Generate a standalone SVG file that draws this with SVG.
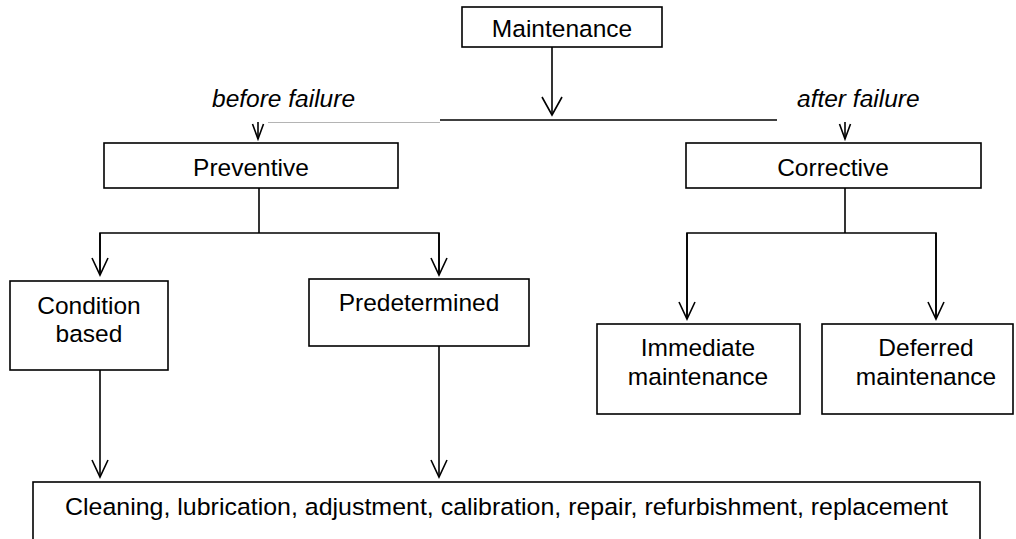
<svg xmlns="http://www.w3.org/2000/svg" width="1016" height="539" viewBox="0 0 1016 539">
<style>
  .box { fill: #fff; stroke: #000; stroke-width: 1.6; }
  .t { font-family: "Liberation Sans", Arial, sans-serif; font-size: 24.5px; fill: #000; text-anchor: middle; }
  .it { font-style: italic; text-anchor: start; }
  .ln { fill: none; stroke: #000; stroke-width: 1.6; }
  .thin { fill: none; stroke: #b4b4b4; stroke-width: 1; }
</style>
<defs>
  <marker id="vL" viewBox="-22 -12 24 24" refX="0" refY="0" markerWidth="24" markerHeight="24" orient="auto" markerUnits="userSpaceOnUse">
    <path d="M-18,-10 L0,0 L-18,10" fill="none" stroke="#000" stroke-width="1.6"/>
  </marker>
  <marker id="vM" viewBox="-22 -12 24 24" refX="0" refY="0" markerWidth="24" markerHeight="24" orient="auto" markerUnits="userSpaceOnUse">
    <path d="M-17,-8 L0,0 L-17,8" fill="none" stroke="#000" stroke-width="1.6"/>
  </marker>
  <marker id="vS" viewBox="-22 -12 24 24" refX="0" refY="0" markerWidth="24" markerHeight="24" orient="auto" markerUnits="userSpaceOnUse">
    <path d="M-15,-5.5 L0,0 L-15,5.5" fill="none" stroke="#000" stroke-width="1.6"/>
  </marker>
</defs>

<g id="connectors">
  <line class="ln" x1="552" y1="47" x2="552" y2="115" marker-end="url(#vL)"/>
  <line class="ln" x1="440" y1="120" x2="777" y2="120"/>
  <line class="thin" x1="268" y1="122.5" x2="440" y2="122.5"/>
  <line class="ln" x1="258" y1="122" x2="258" y2="139" marker-end="url(#vS)"/>
  <line class="ln" x1="845" y1="122" x2="845" y2="139" marker-end="url(#vS)"/>
  <polyline class="ln" points="259,188 259,233"/>
  <polyline class="ln" points="100,275 100,233 439,233 439,275"/>
  <line class="ln" x1="100" y1="233" x2="100" y2="275" marker-end="url(#vM)"/>
  <line class="ln" x1="439" y1="233" x2="439" y2="275" marker-end="url(#vM)"/>
  <polyline class="ln" points="845,188 845,233"/>
  <polyline class="ln" points="687,319 687,233 936,233 936,319"/>
  <line class="ln" x1="687" y1="233" x2="687" y2="319" marker-end="url(#vM)"/>
  <line class="ln" x1="936" y1="233" x2="936" y2="319" marker-end="url(#vM)"/>
  <line class="ln" x1="100" y1="370" x2="100" y2="477" marker-end="url(#vM)"/>
  <line class="ln" x1="439" y1="346" x2="439" y2="477" marker-end="url(#vM)"/>
  <text class="t it" x="212" y="107">before failure</text>
  <text class="t it" x="797" y="107">after failure</text>
</g>

<g id="maintenance">
  <rect class="box" x="462" y="7" width="200" height="40"/>
  <text class="t" x="562" y="37">Maintenance</text>
</g>
<g id="preventive">
  <rect class="box" x="104" y="143" width="294" height="45"/>
  <text class="t" x="251" y="176">Preventive</text>
</g>
<g id="corrective">
  <rect class="box" x="686" y="143" width="295" height="45"/>
  <text class="t" x="833" y="176">Corrective</text>
</g>
<g id="condition-based">
  <rect class="box" x="10" y="281" width="158" height="89"/>
  <text class="t" x="89" y="314">Condition</text>
  <text class="t" x="89" y="342">based</text>
</g>
<g id="predetermined">
  <rect class="box" x="309" y="279" width="220" height="67"/>
  <text class="t" x="419" y="311">Predetermined</text>
</g>
<g id="immediate">
  <rect class="box" x="597" y="324" width="203" height="90"/>
  <text class="t" x="698" y="356">Immediate</text>
  <text class="t" x="698" y="385">maintenance</text>
</g>
<g id="deferred">
  <rect class="box" x="822" y="324" width="191" height="90"/>
  <text class="t" x="926" y="356">Deferred</text>
  <text class="t" x="926" y="385">maintenance</text>
</g>
<g id="actions">
  <rect class="box" x="33" y="482" width="947" height="70"/>
  <text class="t" x="506.5" y="515" textLength="883" lengthAdjust="spacingAndGlyphs">Cleaning, lubrication, adjustment, calibration, repair, refurbishment, replacement</text>
</g>
</svg>
